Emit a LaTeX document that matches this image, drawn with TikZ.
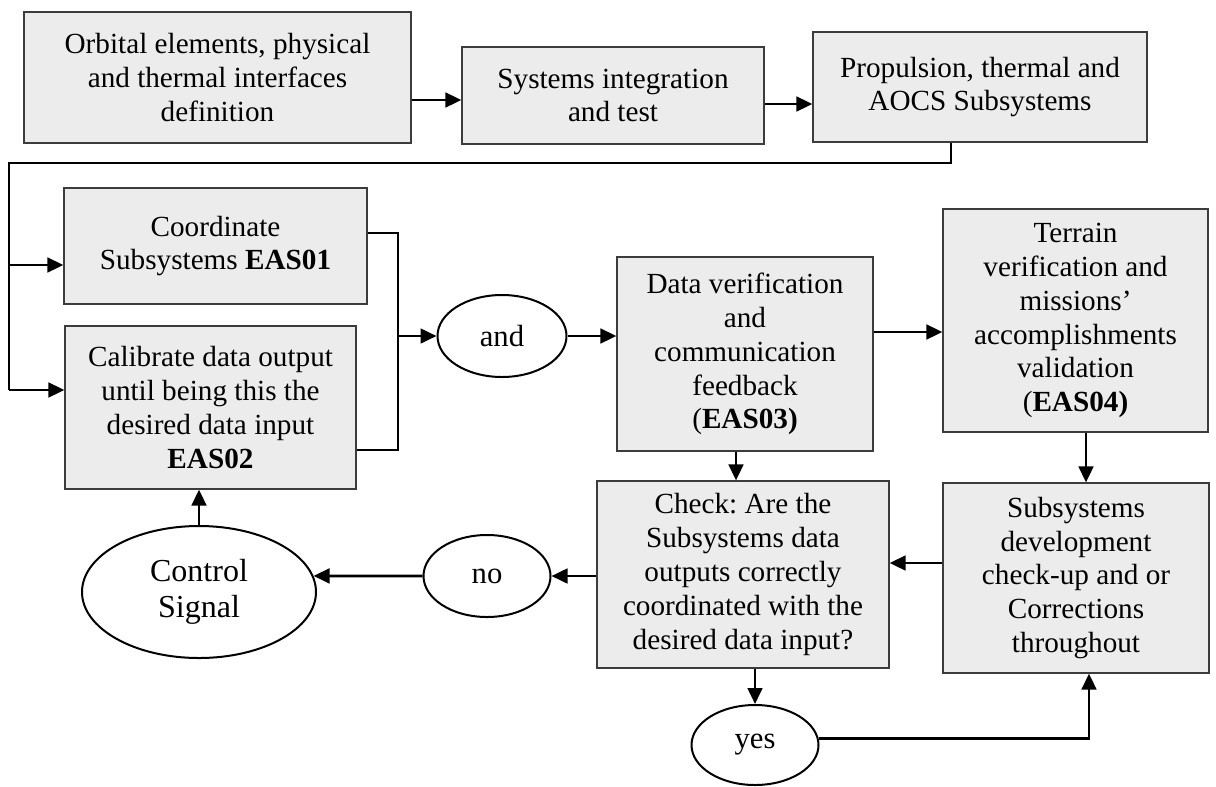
\documentclass[tikz,border=0pt]{standalone}
\usepackage{fontspec}
\setmainfont{Liberation Serif}
\usetikzlibrary{shapes.geometric,arrows.meta}
\definecolor{boxfill}{RGB}{236,236,236}
\definecolor{boxline}{RGB}{60,60,60}
\frenchspacing

\begin{document}
\begin{tikzpicture}[x=0.75pt,y=-0.75pt,
  box/.style={draw=boxline, line width=0.9pt, fill=boxfill, inner sep=0pt,
    align=center, font=\fontsize{21.9}{25.4}\selectfont},
  oval/.style={ellipse, draw=black, line width=1.5pt, fill=white, inner sep=0pt,
    align=center, font=\fontsize{23}{27}\selectfont},
  link/.style={line width=2pt},
  thinlink/.style={line width=1pt},
  arr/.style={link, -{Triangle[length=12pt,width=11pt]}}
]
\useasboundingbox (0,0) rectangle (1216,786);

% top row
\node[box, minimum width=290.25pt, minimum height=98.25pt] (b1) at (217.5,77.5)
  {Orbital elements, physical\\and thermal interfaces\\definition};
\node[box, minimum width=226.5pt, minimum height=72.75pt] (b2) at (613,95.5)
  {Systems integration\\and test};
\node[box, minimum width=250.5pt, minimum height=82.5pt] (b3) at (980,87)
  {Propulsion, thermal and\\AOCS Subsystems};

% left column
\node[box, minimum width=227.25pt, minimum height=87pt] (coord) at (215.5,246)
  {Coordinate\\Subsystems \textbf{EAS01}};
\node[box, minimum width=218.25pt, minimum height=122.25pt] (calib) at (210.5,407.5)
  {Calibrate data output\\until being this the\\desired data input\\\textbf{EAS02}};
\node[oval, minimum width=96.75pt, minimum height=61.5pt] (andE) at (502,336) {and};

% middle and right
\node[box, minimum width=192pt, minimum height=145.5pt] (data) at (745,354)
  {Data verification\\and\\communication\\feedback\\(\textbf{EAS03)}};
\node[box, minimum width=198.75pt, minimum height=167.25pt] (terr) at (1075.5,320.5)
  {Terrain\\verification and\\missions’\\accomplishments\\validation\\(\textbf{EAS04)}};
\node[box, minimum width=219pt, minimum height=140.25pt] (check) at (743,574.5)
  {Check: Are the\\Subsystems data\\outputs correctly\\coordinated with the\\desired data input?};
\node[box, minimum width=199.5pt, minimum height=142.5pt] (subs) at (1076,578)
  {Subsystems\\development\\check-up and or\\Corrections\\throughout};

% decision ellipses
\node[oval, minimum width=95.25pt, minimum height=61.5pt] (no) at (487,576) {no};
\node[oval, minimum width=175.5pt, minimum height=99pt,
  font=\fontsize{24}{27}\selectfont] (ctrl) at (199,592) {Control\\Signal};
\node[oval, minimum width=95.25pt, minimum height=60pt] (yes) at (755,745) {yes};

% helper coordinates for connector routing
\coordinate (h100) at (0,100);
\coordinate (h104) at (0,104);
\coordinate (loopR) at (951,163);
\coordinate (loopL) at (9,163);
\coordinate (h265) at (0,265);
\coordinate (h390) at (0,390);
\coordinate (h233) at (0,233);
\coordinate (h450) at (0,450);
\coordinate (join) at (398,336);
\coordinate (h332) at (0,332);
\coordinate (v736) at (736,0);
\coordinate (v1086) at (1086,0);
\coordinate (h563) at (0,563);
\coordinate (v1089) at (1089,0);

% connectors
\draw[arr] (b1.east |- h100) -- (b2.west |- h100);
\draw[arr] (b2.east |- h104) -- (b3.west |- h104);
\draw[thinlink] (b3.south -| loopR) -- (loopR) -- (loopL) -- (loopL |- h390);
\draw[arr] (loopL |- h265) -- (coord.west |- h265);
\draw[arr] (loopL |- h390) -- (calib.west |- h390);
\draw[link] (coord.east |- h233) -| (join) |- (calib.east |- h450);
\draw[arr] (join) -- (andE.west);
\draw[arr] (andE.east) -- (data.west |- andE.east);
\draw[arr] (data.east |- h332) -- (terr.west |- h332);
\draw[arr] (data.south -| v736) -- (check.north -| v736);
\draw[arr] (terr.south -| v1086) -- (subs.north -| v1086);
\draw[arr] (subs.west |- h563) -- (check.east |- h563);
\draw[arr] (check.west |- no.east) -- (no.east);
\draw[arr] (no.west) -- (ctrl.8);
\draw[arr] (ctrl.north) -- (calib.south -| ctrl.north);
\draw[arr] (check.south -| yes.north) -- (yes.north);
\draw[arr] (yes.6) -| (subs.south -| v1089);
\end{tikzpicture}
\end{document}
